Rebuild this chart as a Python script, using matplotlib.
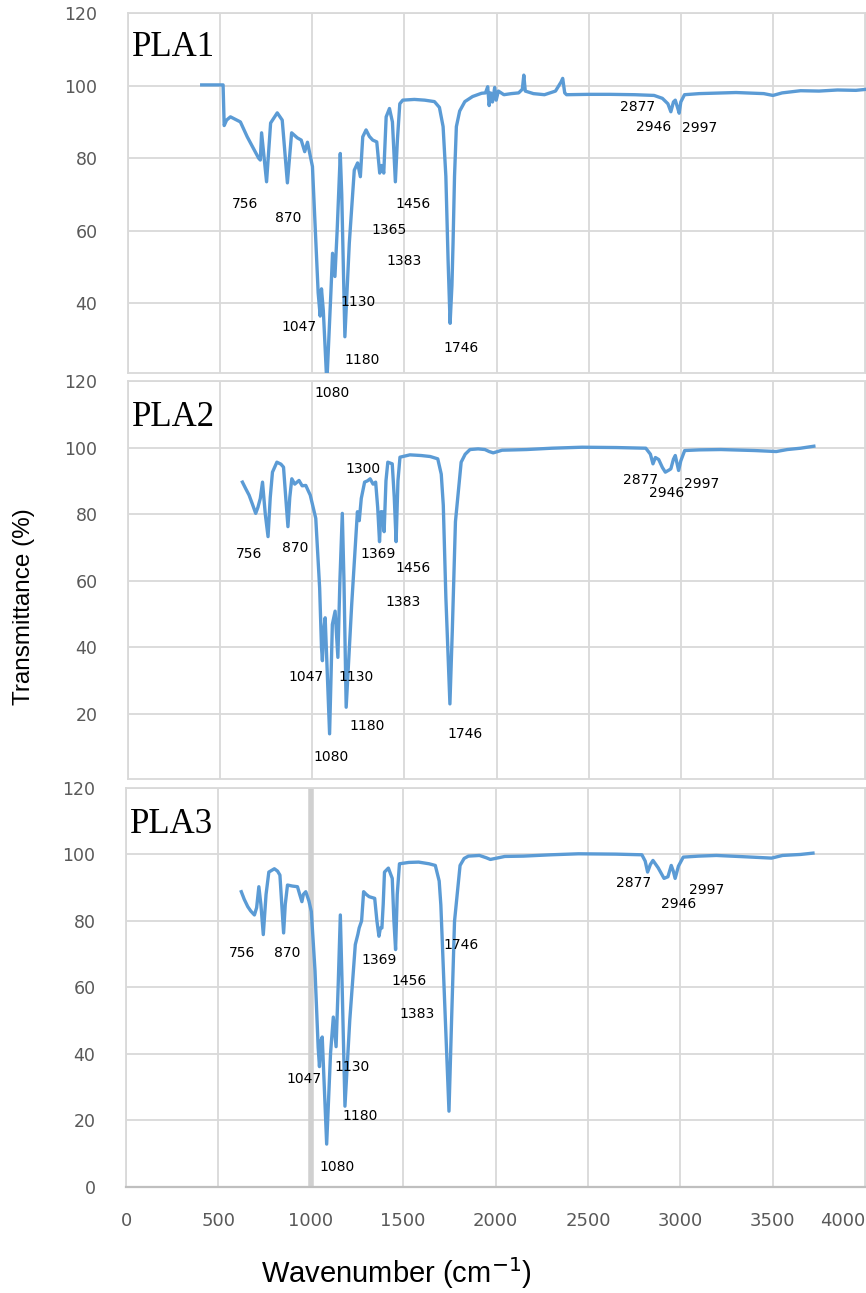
import matplotlib
matplotlib.use("Agg")
import matplotlib.pyplot as plt
from matplotlib import font_manager

# FTIR spectra of three PLA samples (wavenumber cm-1, transmittance %)
pla1_wn = [400, 516, 522, 535, 556, 610, 647, 709, 718, 725, 752, 774, 810, 837, 865, 888, 919, 940,
           959, 974, 1001, 1032, 1043, 1050, 1060, 1079, 1101, 1110, 1123, 1135, 1152, 1160, 1177,
           1201, 1228, 1246, 1261, 1274, 1292, 1310, 1328, 1350, 1366, 1377, 1388, 1401, 1419, 1435,
           1451, 1462, 1475, 1491, 1554, 1610, 1663, 1690, 1710, 1725, 1737, 1748, 1758, 1764, 1772,
           1782, 1800, 1828, 1870, 1919, 1940, 1952, 1960, 1968, 1978, 1990, 1998, 2010, 2040, 2080,
           2120, 2140, 2148, 2156, 2200, 2260, 2320, 2350, 2359, 2370, 2380, 2500, 2614, 2750, 2855,
           2900, 2930, 2946, 2960, 2970, 2985, 2991, 3000, 3020, 3100, 3300, 3450, 3500, 3550, 3650,
           3750, 3850, 3950, 4010]
pla1_t = [100.2, 100.2, 89, 90.5, 91.4, 90, 85.9, 80, 79.5, 87, 73.5, 89.7, 92.5, 90.5, 73.2, 87, 85.6, 85,
          81.8, 84.4, 77.7, 42.9, 36.5, 44, 38, 18, 42.9, 53.8, 47.4, 60, 81.3, 70, 30.8,
          56.6, 76.7, 78.7, 74.9, 85.9, 87.8, 86, 85, 84.5, 75.9, 78, 75.9, 91.4, 93.7, 90,
          73.5, 85, 95, 96, 96.2, 96, 95.6, 94, 88.7, 75, 52, 34.5, 45, 56.6, 75,
          88.7, 93, 95.6, 97, 97.9, 98, 99.7, 94.5, 98, 95.5, 99.5, 96, 98.5, 97.5, 97.8,
          98, 99, 102.9, 98.5, 97.8, 97.5, 98.5, 101, 102, 98, 97.5, 97.6, 97.6, 97.5, 97.3,
          96.5, 95, 92.8, 95.5, 96, 93.5, 92.4, 95.5, 97.5, 97.8, 98.1, 97.8, 97.3, 98, 98.6,
          98.5, 98.8, 98.7, 99]

pla2_wn = [621, 640, 657, 675, 693, 705, 718, 730, 745, 760, 772, 784, 808, 830, 844, 856, 868, 878, 889,
           905, 928, 945, 965, 978, 989, 1019, 1040, 1050, 1055, 1062, 1070, 1094, 1109, 1124, 1139,
           1150, 1163, 1172, 1184, 1214, 1245, 1255, 1266, 1284, 1300, 1314, 1330, 1344, 1355, 1365,
           1373, 1380, 1390, 1400, 1410, 1434, 1445, 1455, 1465, 1476, 1530, 1591, 1640, 1681, 1700,
           1711, 1725, 1747, 1760, 1777, 1808, 1830, 1856, 1900, 1937, 1960, 1982, 2030, 2100, 2163,
           2300, 2464, 2650, 2810, 2835, 2849, 2862, 2880, 2900, 2916, 2935, 2946, 2960, 2970, 2988,
           3000, 3021, 3100, 3217, 3400, 3518, 3578, 3650, 3722]
pla2_t = [89.6, 87.5, 85.7, 83, 80.2, 82, 84.7, 89.6, 80, 73.2, 85, 92.6, 95.6, 95, 94.1, 85, 76.2, 85, 90.6,
          89, 90.1, 88.5, 88.6, 87, 85.7, 78.7, 57.8, 40, 35.9, 45, 48.8, 13.9, 46.8, 50.8, 36.9,
          60, 80.2, 60, 21.9, 52.8, 80.7, 78, 84.7, 89.6, 90, 90.6, 89, 89.6, 82, 71.7,
          80.7, 80.7, 74.7, 90, 95.6, 95.1, 85, 71.7, 90, 97.1, 97.8, 97.6, 97.3, 96.6, 92,
          82.7, 55, 22.9, 45, 77.7, 95.6, 98, 99.4, 99.6, 99.4, 98.8, 98.4, 99.2, 99.3, 99.4,
          99.8, 100.1, 100, 99.8, 98, 95.1, 97, 96.4, 94, 92.6, 93.2, 93.6, 96.5, 97.6, 93.1,
          96, 99.1, 99.3, 99.4, 99.1, 98.8, 99.4, 99.8, 100.4]

pla3_wn = [624, 640, 659, 675, 695, 707, 719, 730, 743, 758, 773, 803, 820, 833, 843, 853, 862, 874, 900,
           928, 940, 952, 960, 973, 990, 1003, 1023, 1040, 1047, 1055, 1062, 1086, 1107, 1122, 1137,
           1148, 1160, 1170, 1185, 1211, 1241, 1255, 1262, 1275, 1286, 1300, 1316, 1346, 1358, 1369,
           1377, 1385, 1392, 1399, 1420, 1441, 1450, 1459, 1468, 1480, 1530, 1584, 1640, 1674, 1695,
           1704, 1725, 1748, 1762, 1778, 1808, 1830, 1853, 1913, 1950, 1972, 2050, 2151, 2300, 2449,
           2650, 2792, 2810, 2823, 2838, 2852, 2880, 2912, 2933, 2951, 2962, 2972, 2990, 3016, 3100,
           3195, 3350, 3494, 3553, 3650, 3718]
pla3_t = [88.8, 86.5, 84.3, 83, 81.8, 84, 90.3, 85, 75.9, 88, 94.7, 95.7, 95, 93.8, 85, 76.4, 85, 90.8, 90.5,
          90.3, 88, 85.8, 88, 88.8, 86, 82.8, 65, 42, 36.2, 44, 45.1, 12.9, 40.2, 51.1, 42.2,
          60, 81.8, 60, 24.3, 50.1, 72.9, 76, 77.9, 80, 88.8, 88, 87.3, 86.8, 80, 75.4,
          77.9, 77.9, 85, 94.7, 95.9, 92.8, 80, 71.4, 88, 97.2, 97.6, 97.7, 97.2, 96.7, 92,
          84.8, 55, 22.8, 50, 79.9, 96.7, 98.8, 99.5, 99.7, 99, 98.5, 99.4, 99.5, 99.9, 100.2,
          100.1, 99.9, 98, 94.7, 97, 98.2, 96, 92.8, 93.3, 96.7, 95, 92.8, 96.5, 99.2, 99.5,
          99.7, 99.3, 98.9, 99.7, 100, 100.4]

# peak labels: text, x, y (data coords of each panel)
pla1_lab = ["756", "870", "1047", "1080", "1130", "1180", "1365", "1383", "1456", "1746", "2877", "2946", "2997"]
pla1_lx = [638, 872, 927, 1109, 1248, 1270, 1417, 1499, 1548, 1809, 2763, 2850, 3101]
pla1_ly = [67.4, 63.5, 33.5, 15.3, 40.4, 24.4, 60.2, 51.7, 67.4, 27.7, 94.1, 88.6, 88.3]

pla2_lab = ["756", "870", "1300", "1369", "1456", "1383", "1047", "1130", "1180", "1080", "1746", "2877", "2946", "2997"]
pla2_lx = [657, 905, 1275, 1356, 1546, 1492, 965, 1238, 1299, 1100, 1831, 2780, 2925, 3111]
pla2_ly = [67.9, 69.7, 93.6, 67.9, 63.9, 53.5, 30.9, 30.9, 16.1, 7.0, 13.9, 90.1, 86.2, 89.1]

pla3_lab = ["756", "870", "1369", "1456", "1383", "1746", "1047", "1130", "1180", "1080", "2877", "2946", "2997"]
pla3_lx = [630, 874, 1369, 1530, 1575, 1814, 964, 1226, 1265, 1143, 2748, 2993, 3142]
pla3_ly = [70.4, 70.4, 68.2, 61.8, 52.1, 72.9, 32.4, 36.0, 21.3, 6.0, 91.3, 85.0, 89.3]

names = ["PLA1", "PLA2", "PLA3"]
x_ticks = [0, 500, 1000, 1500, 2000, 2500, 3000, 3500, 4000]

installed = {f.name for f in font_manager.fontManager.ttflist}
narrow = "Liberation Sans Narrow" if "Liberation Sans Narrow" in installed else "DejaVu Sans"
plt.rcParams['font.family'] = [narrow, 'DejaVu Sans']

line_col = '#5B9BD5'
grid_col = '#D9D9D9'
tick_col = '#595959'

fig = plt.figure(figsize=(8.66, 12.93), dpi=100)
rects = [[0.1478, 0.7115, 0.8522, 0.2784],
         [0.1478, 0.3975, 0.8522, 0.3078],
         [0.1455, 0.0820, 0.8545, 0.3086]]
ylims = [(20.8, 120), (0.3, 120), (0, 120)]
yticks = [[40, 60, 80, 100, 120], [20, 40, 60, 80, 100, 120], [0, 20, 40, 60, 80, 100, 120]]
series = [(pla1_wn, pla1_t), (pla2_wn, pla2_t), (pla3_wn, pla3_t)]
labels = [(pla1_lab, pla1_lx, pla1_ly), (pla2_lab, pla2_lx, pla2_ly), (pla3_lab, pla3_lx, pla3_ly)]

axes = []
for i in range(3):
    ax = fig.add_axes(rects[i])
    ax.set_facecolor('none')
    ax.set_xlim(0, 4005)
    ax.set_ylim(*ylims[i])
    ax.set_xticks(x_ticks)
    ax.set_yticks(yticks[i])
    ax.grid(True, color=grid_col, lw=1.3, zorder=0)
    ax.set_axisbelow(True)
    for s in ax.spines.values():
        s.set_color(grid_col)
        s.set_linewidth(1.3)
    ax.tick_params(length=0, labelsize=12.5, labelcolor=tick_col, pad=22)
    if i < 2:
        ax.set_xticklabels([])
    wn, t = series[i]
    ax.plot(wn, t, color=line_col, lw=2.4, zorder=3)
    ax.text(0.005, 0.95, names[i], transform=ax.transAxes, ha='left', va='top',
            fontsize=25, family=['Liberation Serif', 'DejaVu Serif'], zorder=4)
    lab, lx, ly = labels[i]
    for s, xx, yy in zip(lab, lx, ly):
        ax.text(xx, yy, s, fontsize=10, ha='center', va='center', color='black', zorder=5, clip_on=False)
    axes.append(ax)

ax3 = axes[2]
ax3.axvline(1000, color='#D0D0D0', lw=4, zorder=1)
ax3.spines['bottom'].set_color('#BFBFBF')
ax3.spines['bottom'].set_linewidth(1.6)
ax3.tick_params(axis='x', pad=18, labelsize=13)
for lbl in ax3.get_xticklabels():
    if lbl.get_text() == '4000':
        lbl.set_horizontalalignment('right')

fig.text(0.458, 0.0075, 'Wavenumber (cm$^{-1}$)', ha='center', va='baseline', fontsize=21,
         family=['Liberation Sans', 'DejaVu Sans'])
fig.text(0.028, 0.531, 'Transmittance (%)', rotation=90, ha='center', va='center', fontsize=17.5,
         family=['Liberation Sans', 'DejaVu Sans'])

fig.savefig('out.png', dpi=100)
